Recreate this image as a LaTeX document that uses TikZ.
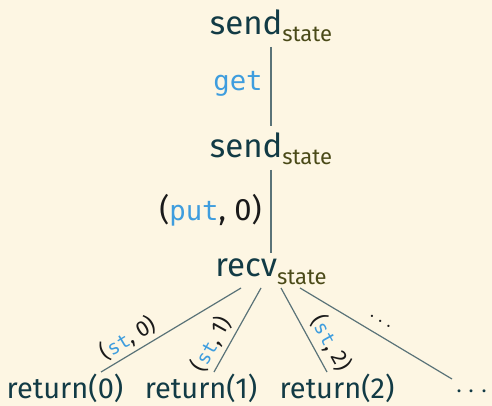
\documentclass[tikz,border=0pt]{standalone}
\usepackage{fontspec}
\setmainfont{Fira Sans}
\setmonofont[Scale=0.88]{DejaVu Sans Mono}
\usetikzlibrary{calc}
\definecolor{bgc}{HTML}{FDF6E3}
\definecolor{mainc}{HTML}{123B45}
\definecolor{subc}{HTML}{4A4A18}
\definecolor{bluec}{HTML}{3E9DDE}
\definecolor{linec}{HTML}{5A7378}
\definecolor{darkc}{HTML}{1A1A1A}
\newcommand{\stt}[1]{\raisebox{-3.5pt}{\textcolor{subc}{\fontsize{11}{12}\selectfont #1}}}
\newcommand{\kw}[1]{\textcolor{bluec}{\ttfamily #1}}
\begin{document}
\begin{tikzpicture}[x=0.5pt,y=-0.5pt,
  big/.style={inner sep=0pt,text=mainc,font=\fontsize{16.5}{20}\selectfont},
  lbl/.style={inner sep=0pt,text=mainc,font=\fontsize{14.5}{18}\selectfont},
  elbl/.style={inner sep=0pt,text=darkc,font=\fontsize{15.5}{18}\selectfont},
  slbl/.style={inner sep=0pt,text=darkc,font=\fontsize{11}{12}\selectfont},
  edge/.style={draw=linec,line width=0.6pt}]
\fill[bgc] (0,0) rectangle (492,406);
\useasboundingbox (0,0) rectangle (492,406);
\node[big,anchor=base] (s1) at (271,35) {send\stt{state}};
\node[big,anchor=base] (s2) at (271,158) {send\stt{state}};
\node[big,anchor=base] (rc) at (271,277) {recv\stt{state}};
\node[lbl,anchor=base] (r0) at (65,398) {return(0)};
\node[lbl,anchor=base] (r1) at (201,398) {return(1)};
\node[lbl,anchor=base] (r2) at (337,398) {return(2)};
\node[lbl,anchor=base] (rd) at (472,398) {$\cdots$};
\draw[edge] ($(s1.base)+(0,12)$) -- ($(s2.base)+(0,-32)$);
\draw[edge] ($(s2.base)+(0,12)$) -- ($(rc.base)+(0,-24)$);
\draw[edge] ($(rc.base)+(-30,11)$) -- ($(r0.base)+(36,-26)$);
\draw[edge] ($(rc.base)+(-10,11)$) -- ($(r1.base)+(13,-26)$);
\draw[edge] ($(rc.base)+(10,11)$) -- ($(r2.base)+(-10,-26)$);
\draw[edge] ($(rc.base)+(29,11)$) -- ($(rd.base)+(-20,-19)$);
\node[elbl,anchor=east] (lg) at (263,84) {\kw{get}};
\node[elbl,anchor=east] (lp) at (262,210) {(\kw{put}, 0)};
\node[slbl,rotate=31] (l0) at (128,338) {(\kw{st}, 0)};
\node[slbl,rotate=61] (l1) at (211,344) {(\kw{st}, 1)};
\node[slbl,rotate=-61] (l2) at (331,343) {(\kw{st}, 2)};
\node[slbl,rotate=-31] (l3) at (380,322) {$\cdots$};
\end{tikzpicture}
\end{document}
